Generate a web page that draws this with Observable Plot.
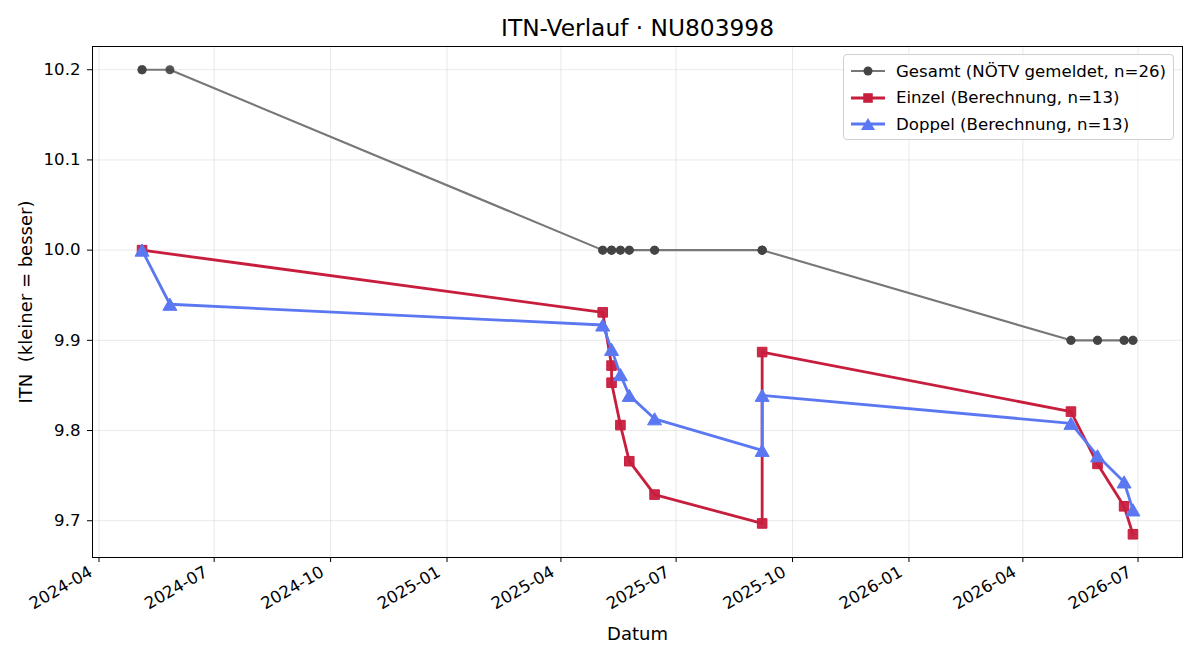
<!DOCTYPE html>
<html>
<head>
<meta charset="utf-8">
<script src="https://cdn.jsdelivr.net/npm/d3@7"></script>
<script src="https://cdn.jsdelivr.net/npm/@observablehq/plot@0.6"></script>
<style>
  body { margin: 0; background: #fff; font-family: "DejaVu Sans", sans-serif; }
  #wrap { position: relative; width: 1200px; height: 660px; }
  .legend {
    position: absolute; left: 843px; top: 54px; width: 331px; height: 86px;
    box-sizing: border-box; border: 1px solid #d0d0d0; border-radius: 4px;
    background: rgba(255,255,255,0.8); padding-top: 3px;
  }
  .legend .row { display: flex; align-items: center; height: 26.5px; font-size: 16.6px; color: #000; white-space: nowrap; }
  .legend svg { margin-left: 7px; margin-right: 11px; }
</style>
</head>
<body>
<div id="wrap"></div>
<script>
// ITN history for player NU803998
const title = "ITN-Verlauf · NU803998";
const xLabel = "Datum";
const yLabel = "ITN\u00a0 (kleiner = besser)";

// Officially reported ITN (NÖTV), one entry per played match
const gesamtDates = [
  "2024-05-05", "2024-05-05", "2024-05-27",
  "2025-05-04", "2025-05-04", "2025-05-11", "2025-05-11", "2025-05-11",
  "2025-05-18", "2025-05-18", "2025-05-25", "2025-05-25", "2025-06-14", "2025-06-14",
  "2025-09-07", "2025-09-07", "2025-09-07", "2025-09-07",
  "2026-05-09", "2026-05-09", "2026-05-30", "2026-05-30",
  "2026-06-20", "2026-06-20", "2026-06-27", "2026-06-27"
];
const gesamtITN = [
  10.2, 10.2, 10.2,
  10.0, 10.0, 10.0, 10.0, 10.0,
  10.0, 10.0, 10.0, 10.0, 10.0, 10.0,
  10.0, 10.0, 10.0, 10.0,
  9.9, 9.9, 9.9, 9.9,
  9.9, 9.9, 9.9, 9.9
];

// Computed singles ITN
const einzelDates = [
  "2024-05-05", "2025-05-04", "2025-05-11", "2025-05-11", "2025-05-18", "2025-05-25",
  "2025-06-14", "2025-09-07", "2025-09-07", "2026-05-09", "2026-05-30", "2026-06-20", "2026-06-27"
];
const einzelITN = [10.0, 9.931, 9.872, 9.853, 9.806, 9.766, 9.729, 9.697, 9.887, 9.821, 9.763, 9.716, 9.685];

// Computed doubles ITN
const doppelDates = [
  "2024-05-05", "2024-05-27", "2025-05-04", "2025-05-11", "2025-05-18", "2025-05-25",
  "2025-06-14", "2025-09-07", "2025-09-07", "2026-05-09", "2026-05-30", "2026-06-20", "2026-06-27"
];
const doppelITN = [10.0, 9.94, 9.917, 9.89, 9.862, 9.839, 9.813, 9.778, 9.839, 9.808, 9.772, 9.743, 9.712];

// Axis ticks
const xTickLabels = ["2024-04", "2024-07", "2024-10", "2025-01", "2025-04", "2025-07", "2025-10", "2026-01", "2026-04", "2026-07"];
const yTickLabels = ["9.7", "9.8", "9.9", "10.0", "10.1", "10.2"];

const seriesNames = ["Gesamt (NÖTV gemeldet, n=26)", "Einzel (Berechnung, n=13)", "Doppel (Berechnung, n=13)"];
const seriesColors = ["#777777", "#c81e3e", "#5b78f2"];
const markerColors = ["#444444", "#c81e3e", "#5b78f2"];
const seriesSymbols = ["circle", "square", "triangle"];
const markerRadii = [4.5, 5.4, 5.2];

const toRows = (dates, vals) => dates.map((d, i) => ({ date: new Date(d + "T00:00:00Z"), itn: vals[i] }));
const gesamt = toRows(gesamtDates, gesamtITN);
const einzel = toRows(einzelDates, einzelITN);
const doppel = toRows(doppelDates, doppelITN);

const xTicks = xTickLabels.map(s => new Date(s + "-01T00:00:00Z"));
const yTicks = yTickLabels.map(Number);

// Padded domains around the data extent
const allDates = [...gesamt, ...einzel, ...doppel].map(d => +d.date);
const allVals = [...gesamt, ...einzel, ...doppel].map(d => d.itn);
const [dMin, dMax] = d3.extent(allDates);
const [vMin, vMax] = d3.extent(allVals);
const dPad = (dMax - dMin) * 0.05, vPad = (vMax - vMin) * 0.05;

const font = "DejaVu Sans, sans-serif";
const tickFont = 16.6;

const chart = Plot.plot({
  width: 1200,
  height: 660,
  marginLeft: 92,
  marginRight: 18,
  marginTop: 46,
  marginBottom: 103,
  style: { fontFamily: font, fontSize: tickFont + "px", color: "#000", background: "#fff", overflow: "visible" },
  x: { type: "utc", domain: [new Date(dMin - dPad), new Date(dMax + dPad)] },
  y: { domain: [vMin - vPad, vMax + vPad] },
  marks: [
    Plot.gridX(xTicks, { stroke: "#b0b0b0", strokeOpacity: 0.35, strokeWidth: 0.8 }),
    Plot.gridY(yTicks, { stroke: "#b0b0b0", strokeOpacity: 0.35, strokeWidth: 0.8 }),
    // x tick marks, then rotated x tick labels
    Plot.axisX(xTicks, { tickFormat: () => "", tickSize: 5, label: null, stroke: "#000" }),
    Plot.axisX(xTicks, {
      tickFormat: d3.utcFormat("%Y-%m"), tickRotate: -30, tickSize: 0, tickPadding: 10,
      label: null, fontSize: tickFont, dx: -8, dy: 3
    }),
    Plot.axisY(yTicks, {
      tickFormat: d3.format(".1f"), tickSize: 5, tickPadding: 7, label: null, fontSize: tickFont
    }),
    // Gesamt
    Plot.line(gesamt, { x: "date", y: "itn", stroke: seriesColors[0], strokeWidth: 2.1 }),
    Plot.dot(gesamt, { x: "date", y: "itn", r: markerRadii[0], symbol: "circle", fill: markerColors[0], fillOpacity: 0.9 }),
    // Einzel
    Plot.line(einzel, { x: "date", y: "itn", stroke: seriesColors[1], strokeWidth: 2.8 }),
    Plot.dot(einzel, { x: "date", y: "itn", r: markerRadii[1], symbol: "square", fill: markerColors[1], stroke: markerColors[1], strokeWidth: 1, fillOpacity: 0.95 }),
    // Doppel (triangle centred on its bounding box)
    Plot.line(doppel, { x: "date", y: "itn", stroke: seriesColors[2], strokeWidth: 2.8 }),
    Plot.dot(doppel, { x: "date", y: "itn", r: markerRadii[2], symbol: "triangle", fill: markerColors[2], stroke: markerColors[2], strokeWidth: 1, dy: 2 }),
    Plot.frame({ stroke: "#000", strokeWidth: 1 }),
    // Title and axis labels
    Plot.text([title], { frameAnchor: "top", lineAnchor: "middle", dy: -18, fontSize: 23.3, fill: "#000" }),
    Plot.text([xLabel], { frameAnchor: "bottom", lineAnchor: "middle", dy: 77, fontSize: 18, fill: "#000" }),
    Plot.text([yLabel], { frameAnchor: "left", textAnchor: "middle", lineAnchor: "middle", dx: -66, rotate: -90, fontSize: 18, fill: "#000" })
  ]
});

const wrap = document.getElementById("wrap");
wrap.appendChild(chart);

// Legend box in the upper right of the frame
const legend = d3.select(wrap).append("div").attr("class", "legend");
seriesNames.forEach((name, i) => {
  const row = legend.append("div").attr("class", "row");
  const sw = row.append("svg").attr("width", 34).attr("height", 14);
  sw.append("line").attr("x1", 0).attr("x2", 34).attr("y1", 7).attr("y2", 7)
    .attr("stroke", seriesColors[i]).attr("stroke-width", i === 0 ? 2.1 : 2.8);
  const sym = { circle: d3.symbolCircle, square: d3.symbolSquare, triangle: d3.symbolTriangle }[seriesSymbols[i]];
  const r = markerRadii[i];
  sw.append("path").attr("transform", `translate(17,${i === 2 ? 9 : 7})`)
    .attr("d", d3.symbol(sym, Math.PI * r * r)())
    .attr("fill", markerColors[i]);
  row.append("span").text(name);
});
</script>
</body>
</html>
